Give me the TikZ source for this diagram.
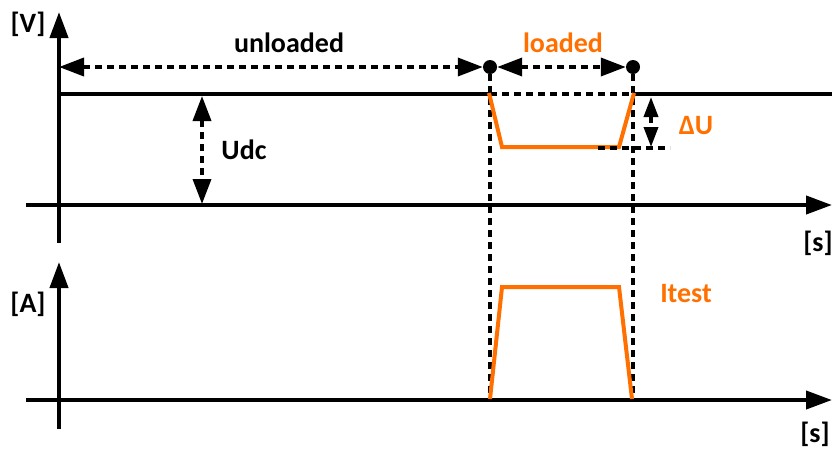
\documentclass[tikz,border=0pt]{standalone}
\usepackage{fontspec}
\setmainfont{Carlito}
\usetikzlibrary{arrows.meta}
\definecolor{testorange}{RGB}{255,112,0}
\tikzset{
  axis/.style={line width=4pt,-{Triangle[length=26pt,width=18pt]}},
  level/.style={line width=4pt},
  guide/.style={line width=3.6pt,dash pattern=on 7pt off 5pt},
  span/.style={guide,{Triangle[length=25pt,width=18pt]}-{Triangle[length=25pt,width=18pt]}},
  smallspan/.style={guide,{Triangle[length=20pt,width=14pt]}-{Triangle[length=20pt,width=14pt]}},
  wave/.style={line width=4pt,testorange,line join=miter},
  dot/.style={circle,fill,inner sep=0pt,minimum size=14pt},
  lbl/.style={font=\fontsize{28}{31}\selectfont\bfseries},
}
\begin{document}
\begin{tikzpicture}[x=1pt,y=-1pt]
\useasboundingbox (0,0) rectangle (832,448);
% axes
\coordinate (vlow) at (59,243);  \coordinate (vtop) at (59,12);
\coordinate (tvl) at (26,205);   \coordinate (tvr) at (832,205);
\coordinate (alow) at (59,429);  \coordinate (atop) at (59,262);
\coordinate (tal) at (26,400);   \coordinate (tar) at (832,400);
\draw[axis] (vlow) -- (vtop);
\draw[axis] (tvl) -- (tvr);
\draw[axis] (alow) -- (atop);
\draw[axis] (tal) -- (tar);
\node[lbl] (vunit) at (28,24) {[V]};
\node[lbl] (sunit1) at (818,243) {[s]};
\node[lbl] (aunit) at (28,304) {[A]};
\node[lbl] (sunit2) at (815,434) {[s]};
% dc level
\coordinate (dcl) at (59,94);   \coordinate (dcr) at (832,94);
\coordinate (dca) at (490,94);  \coordinate (dcb) at (633,94);
\draw[level] (dcl) -- (dca);
\draw[level] (dcb) -- (dcr);
\draw[guide] (dca) -- (dcb);
% time spans
\coordinate (vspan) at (59,67);
\node[dot] (tl) at (490,67) {};
\node[dot] (tr) at (633,67) {};
\draw[span] (vspan) -- (tl);
\draw[span] (tl) -- (tr);
\node[lbl] (unl) at (289,43) {unloaded};
\node[lbl,testorange] (ld) at (563,43) {loaded};
\draw[guide] (tl) -- (tl |- tal);
\draw[guide] (tr) -- (tr |- tal);
% Udc
\coordinate (udctop) at (202,96); \coordinate (udcbot) at (202,204);
\draw[span] (udctop) -- (udcbot);
\node[lbl] (udc) at (244,150) {Udc};
% voltage dip
\coordinate (dipa) at (489,93);  \coordinate (dipb) at (502,147);
\coordinate (dipc) at (619,147); \coordinate (dipd) at (634,93);
\draw[wave] (dipa) -- (dipb) -- (dipc) -- (dipd);
\coordinate (dul) at (598,148); \coordinate (dur) at (670,148);
\draw[guide] (dul) -- (dur);
\coordinate (dutop) at (651,97); \coordinate (dubot) at (651,147);
\draw[smallspan] (dutop) -- (dubot);
\node[lbl,testorange] (du) at (696,126) {ΔU};
% test current
\coordinate (ia) at (490,399);  \coordinate (ib) at (502,287);
\coordinate (ic) at (619,287);  \coordinate (id) at (632,399);
\draw[wave] (ia) -- (ib) -- (ic) -- (id);
\node[lbl,testorange] (itest) at (686,294) {Itest};
\end{tikzpicture}
\end{document}
